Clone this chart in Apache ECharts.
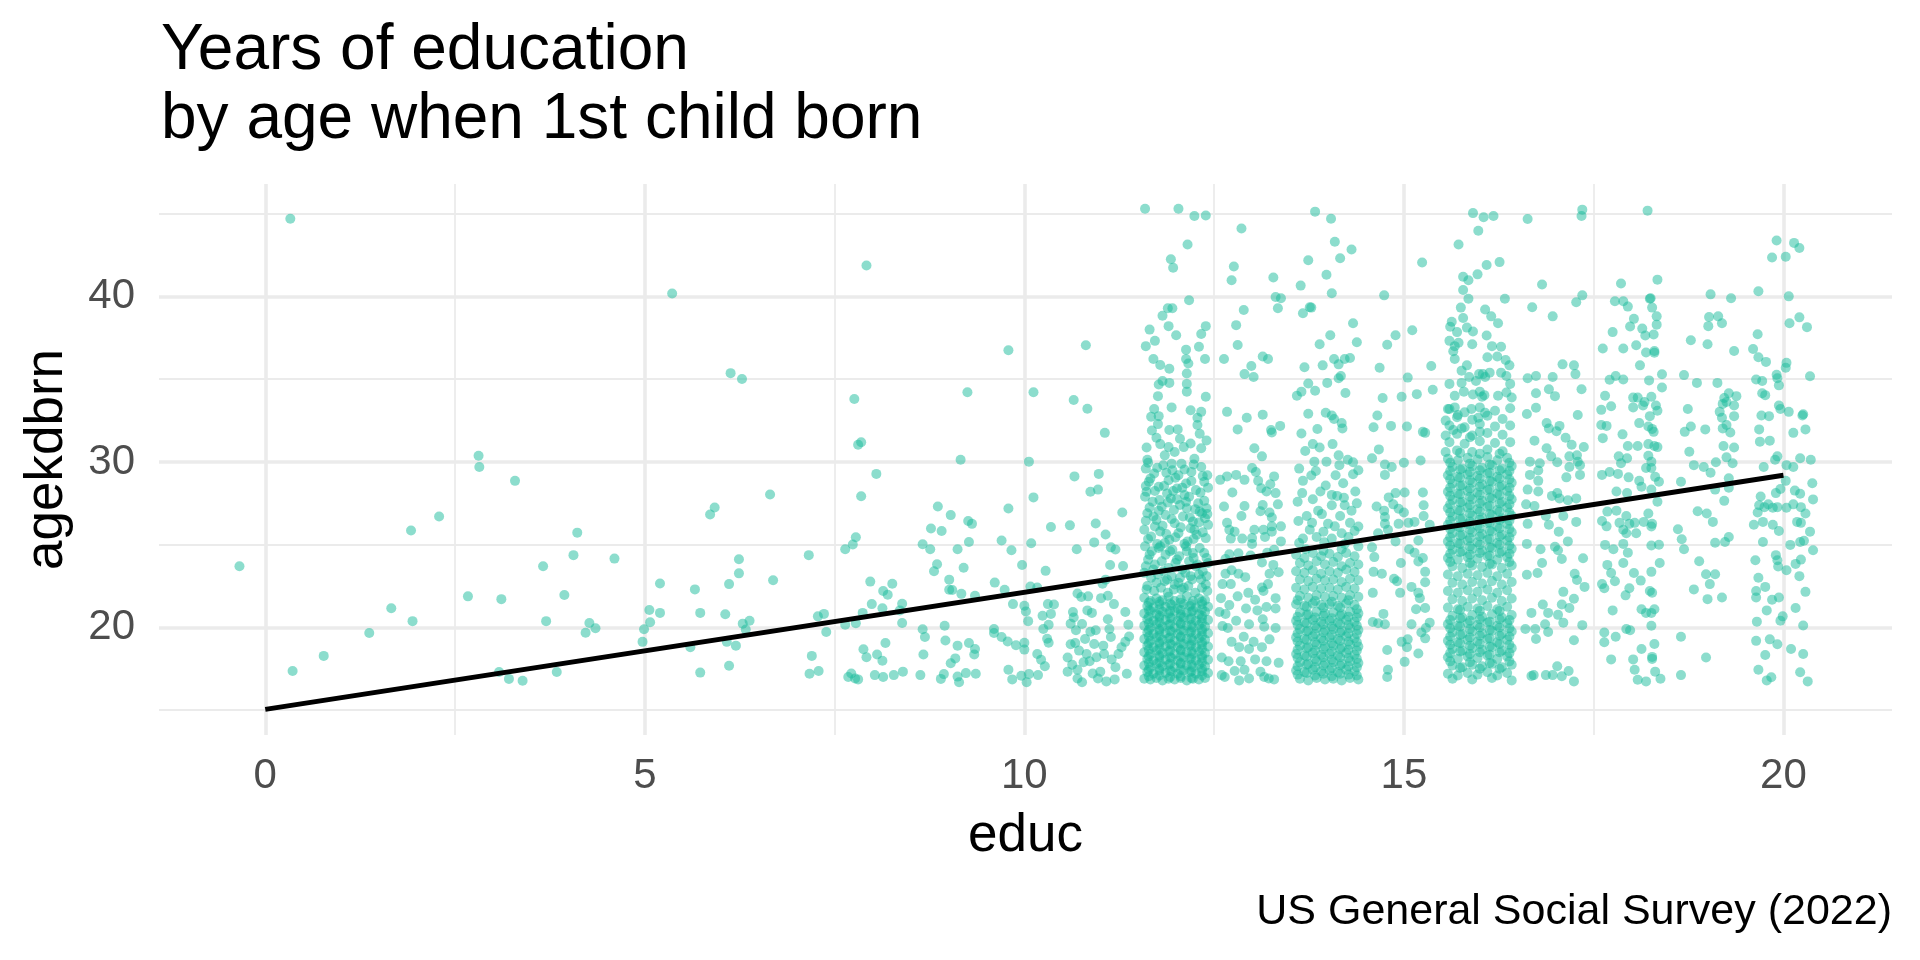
<!DOCTYPE html>
<html lang="en">
<head>
<meta charset="UTF-8">
<title>Years of education by age when 1st child born</title>
<script src="https://cdn.jsdelivr.net/npm/echarts@6/dist/echarts.min.js"></script>
<style>
  html, body { margin: 0; padding: 0; background: #fff; }
  #chart { width: 1920px; height: 960px; }
</style>
</head>
<body>
<div id="chart"></div>
<script>
// axis ticks
var xMajorTicks = [0, 5, 10, 15, 20];
var xMinorTicks = [2.5, 7.5, 12.5, 17.5];
var yMajorTicks = [20, 30, 40];
var yMinorTicks = [15, 25, 35, 45];

// fitted lm line (educ -> agekdbrn)
var fitLine = [[0, 15.05], [20, 29.2]];

// jittered points [educ, agekdbrn]
var lowEduc = [[0.33,44.7],[5.36,40.18],[6.13,35.37],[6.28,35.01],[2.81,30.38],[2.82,29.7],[3.29,28.86],[6.65,28.03],[5.92,27.25],[5.86,26.83],[2.29,26.7],[1.92,25.86],[4.11,25.73],[-0.34,23.7],[4.06,24.37],[4.6,24.16],[3.66,23.7],[7.16,24.37],[6.24,24.12],[6.24,23.27],[6.69,22.85],[5.2,22.66],[6.11,22.62],[5.66,22.3],[2.67,21.88],[3.11,21.71],[3.94,21.96],[1.66,21.16],[1.94,20.38],[3.7,20.38],[5.06,21.05],[5.2,20.88],[5.73,20.88],[6.06,20.8],[5.07,20.31],[4.27,20.27],[4.35,19.95],[4.22,19.68],[4.99,19.89],[6.29,20.23],[6.33,19.87],[6.38,20.4],[1.37,19.66],[4.97,19.13],[5.6,18.81],[6.08,19.13],[6.2,18.9],[7.28,20.67],[0.77,18.28],[7.2,18.28],[0.36,17.37],[3.08,17.31],[3.21,16.89],[3.39,16.78],[3.84,17.31],[5.73,17.27],[6.11,17.69],[7.17,17.2],[7.29,17.37],[7.36,20.82],[7.39,19.72]];

var educ8to11 = [[7.92,41.87],[9.79,36.75],[10.81,37.05],[9.25,34.21],[10.12,34.21],[7.76,33.81],[10.65,33.75],[10.83,33.22],[11.06,31.76],[7.85,31.19],[7.81,31.04],[9.16,30.13],[10.06,30.02],[8.05,29.28],[10.66,29.13],[10.98,29.28],[10.87,28.2],[10.97,28.33],[7.85,27.93],[10.12,27.86],[8.86,27.31],[9.79,27.19],[11.29,26.95],[9.03,26.79],[9.26,26.43],[9.31,26.26],[8.77,25.98],[8.91,25.83],[10.6,26.17],[10.35,26.07],[10.94,26.28],[11.07,25.62],[7.78,25.45],[7.74,25.01],[7.64,24.73],[9.27,25.16],[9.7,25.26],[10.09,25.09],[10.92,25.14],[8.66,25.03],[8.76,24.73],[9.12,24.73],[9.83,24.67],[10.69,24.73],[11.14,24.84],[11.2,24.71],[8.85,23.82],[8.81,23.4],[9.2,23.61],[9.97,23.77],[11.13,23.77],[11.3,23.71],[10.28,23.42],[9.01,22.89],[7.97,22.77],[8.26,22.64],[9.61,22.71],[9.74,22.28],[10.08,22.47],[10.17,22.41],[11.07,22.89],[11.03,22.64],[8.14,22.2],[8.2,21.98],[9.01,22.28],[9.05,22.26],[9.17,22.03],[9.35,21.92],[10.7,22.05],[10.75,21.84],[10.84,21.88],[11.01,21.77],[11.1,21.92],[7.99,21.41],[8.39,21.43],[7.87,20.88],[8.13,21.16],[8.36,21.03],[9.85,21.41],[10.0,21.31],[10.02,20.97],[10.05,20.38],[10.31,21.41],[10.39,21.39],[10.24,20.71],[10.35,20.82],[10.64,20.93],[10.83,21.03],[10.89,20.88],[11.18,21.41],[11.33,20.93],[7.64,20.16],[7.78,20.25],[8.39,20.27],[8.95,20.1],[11.37,20.16],[10.32,20.16],[10.61,20.23],[10.76,20.21],[10.68,19.83],[10.87,19.74],[10.94,19.83],[11.12,19.91],[8.66,19.89],[8.69,19.42],[9.6,19.91],[9.6,19.66],[9.7,19.42],[9.78,19.15],[10.25,19.91],[10.3,19.32],[10.32,19.08],[11.14,19.42],[11.38,19.45],[11.33,19.13],[8.96,19.21],[9.27,19.06],[9.12,18.9],[9.89,18.92],[10.0,19.08],[10.0,18.66],[8.17,19.06],[7.88,18.68],[9.35,18.7],[11.04,18.9],[10.61,18.98],[10.67,19.06],[7.92,18.2],[8.06,18.37],[8.13,17.99],[8.67,18.37],[9.34,18.37],[9.09,18.13],[9.03,17.84],[10.17,18.39],[10.22,18.05],[10.27,17.65],[10.57,18.18],[10.63,17.75],[10.82,18.39],[10.86,17.96],[11.05,18.39],[11.15,18.07],[11.24,18.39],[7.72,17.22],[7.77,16.91],[7.68,17.01],[7.81,16.86],[8.03,17.12],[8.14,17.01],[8.28,17.12],[8.4,17.33],[8.63,17.12],[8.9,16.89],[8.94,17.18],[9.12,17.03],[9.14,16.69],[9.23,17.24],[9.36,17.2],[9.79,17.44],[9.84,16.86],[9.96,17.08],[10.03,16.69],[10.06,17.18],[10.18,17.12],[10.57,17.33],[10.7,16.91],[10.76,16.69],[10.9,17.22],[10.97,16.91],[11.08,16.74],[11.19,16.86],[10.7,17.44],[11.0,17.33],[10.72,18.6],[10.95,18.2],[11.2,17.6],[10.8,19.3],[11.28,18.8],[10.65,20.6],[11.1,20.5],[10.78,17.9],[11.35,17.2],[10.92,19.0]];

var educ12 = [[11.59,45.3],[12.03,45.3],[12.24,44.87],[12.39,44.9],[12.15,43.14],[11.93,42.25],[11.96,41.74],[12.17,39.77],[11.89,39.29],[11.95,39.29],[11.82,38.84],[11.65,38.0],[11.9,38.21],[12.39,38.21],[12.0,37.66],[12.33,37.74],[11.72,37.32],[11.6,37.0],[12.3,36.96],[12.13,36.79],[11.7,36.22],[12.13,36.22],[12.38,36.22],[11.79,35.86],[12.16,35.95],[11.91,35.63],[12.14,35.35],[11.82,34.89],[11.91,34.78],[11.77,34.68],[12.14,34.72],[12.14,34.25],[11.76,33.98],[12.39,33.94],[11.94,33.3],[11.71,33.2],[12.19,33.13],[12.33,33.03],[11.67,32.73],[11.77,32.77],[12.28,32.67],[11.76,32.29],[12.28,32.24],[11.91,31.93],[12.02,31.97],[12.31,31.71],[11.74,31.46],[11.79,31.08],[12.19,31.12],[12.33,30.83],[11.61,30.87],[11.62,30.13],[11.98,30.6],[12.1,30.9],[11.85,30.4],[12.24,30.2],[12.05,31.4],[11.68,31.9],[12.4,31.3],[11.9,30.9],
  [11.6,29.6],[11.71,29.3],[11.83,29.8],[11.95,29.5],[12.07,29.9],[12.2,29.4],[12.33,29.7],[12.41,29.2],[11.64,28.8],[11.77,28.5],[11.9,28.9],[12.01,28.4],[12.13,28.7],[12.26,28.3],[12.37,28.8],[11.59,27.9],[11.69,27.6],[11.81,27.3],[11.93,27.8],[12.05,27.4],[12.17,27.9],[12.29,27.5],[12.4,27.2],[11.62,26.9],[11.74,26.5],[11.86,26.8],[11.98,26.3],[12.09,26.7],[12.22,26.4],[12.34,26.9],[12.42,26.2],[11.58,25.9],[11.67,25.5],[11.79,25.8],[11.91,25.3],[12.03,25.7],[12.15,25.2],[12.27,25.6],[12.39,25.4],[11.66,29.0],[11.88,28.1],[12.11,28.0],[12.31,27.0],[11.72,26.1],[11.97,27.1],[12.24,25.9],[11.85,25.1],[12.19,26.0],[11.61,28.2],[12.03,29.2],[12.38,26.6],[11.78,27.7],[12.14,27.2],[11.94,29.9],
  [11.63,29.95],[11.75,29.65],[11.87,29.35],[11.99,29.05],[12.11,29.55],[12.23,29.85],[12.35,29.15],[11.6,28.55],[11.72,28.25],[11.84,28.55],[11.96,28.25],[12.08,28.45],[12.2,28.85],[12.32,28.15],[12.42,28.45],[11.65,27.25],[11.77,27.05],[11.89,27.55],[12.01,27.75],[12.13,27.6],[12.25,27.15],[12.37,27.65],[11.6,26.45],[11.7,26.7],[11.82,26.15],[11.94,26.55],[12.06,26.05],[12.18,26.65],[12.3,26.35],[12.41,26.85],[11.63,25.35],[11.75,25.05],[11.87,25.65],[11.99,25.45],[12.11,25.05],[12.23,25.35],[12.35,25.75],
  [11.59,24.9],[11.68,24.6],[11.77,24.8],[11.86,24.4],[11.95,24.7],[12.04,24.3],[12.13,24.9],[12.22,24.5],[12.31,24.8],[12.4,24.2],[11.63,24.1],[11.72,23.8],[11.81,24.0],[11.9,23.6],[11.99,23.9],[12.08,23.5],[12.17,24.0],[12.26,23.7],[12.35,23.4],[12.42,23.9],[11.58,23.3],[11.67,23.0],[11.76,23.2],[11.85,22.8],[11.94,23.1],[12.03,22.7],[12.12,23.3],[12.21,22.9],[12.3,23.2],[12.39,22.6],[11.62,22.5],[11.71,22.2],[11.8,22.4],[11.89,22.1],[11.98,22.6],[12.07,22.3],[12.16,22.5],[12.25,22.1],[12.34,22.4],[12.41,22.2],[11.65,24.4],[11.83,23.4],[12.01,24.1],[12.19,23.1],[12.37,24.5],[11.74,22.7],[11.92,24.6],[12.1,22.4],[12.28,23.8],[11.6,23.7],[12.05,23.0],[12.23,24.2],[11.79,24.9],[11.97,22.3],[12.33,22.9],[11.7,23.5],[12.14,24.6],[11.88,22.9],[12.4,23.1],[11.61,22.3],
  [11.58,21.8],[11.66,21.6],[11.74,21.75],[11.82,21.65],[11.9,21.85],[11.98,21.6],[12.06,21.7],[12.14,21.9],[12.22,21.6],[12.3,21.75],[12.38,21.65],
  [11.62,21.3],[11.7,21.2],[11.78,21.4],[11.86,21.25],[11.94,21.35],[12.02,21.15],[12.1,21.4],[12.18,21.3],[12.26,21.2],[12.34,21.4],[12.42,21.25],
  [11.58,20.85],[11.66,21.0],[11.74,20.8],[11.82,20.95],[11.9,20.85],[11.98,21.0],[12.06,20.8],[12.14,20.9],[12.22,21.0],[12.3,20.8],[12.38,20.95],
  [11.62,20.5],[11.7,20.4],[11.78,20.6],[11.86,20.45],[11.94,20.55],[12.02,20.4],[12.1,20.6],[12.18,20.5],[12.26,20.4],[12.34,20.55],[12.42,20.45],
  [11.58,20.1],[11.66,20.0],[11.74,20.2],[11.82,20.05],[11.9,20.15],[11.98,20.0],[12.06,20.2],[12.14,20.1],[12.22,20.0],[12.3,20.15],[12.38,20.05],
  [11.62,19.7],[11.7,19.6],[11.78,19.8],[11.86,19.65],[11.94,19.75],[12.02,19.6],[12.1,19.8],[12.18,19.7],[12.26,19.6],[12.34,19.75],[12.42,19.65],
  [11.58,19.3],[11.66,19.2],[11.74,19.4],[11.82,19.25],[11.9,19.35],[11.98,19.2],[12.06,19.4],[12.14,19.3],[12.22,19.2],[12.3,19.35],[12.38,19.25],
  [11.62,18.9],[11.7,18.8],[11.78,19.0],[11.86,18.85],[11.94,18.95],[12.02,18.8],[12.1,19.0],[12.18,18.9],[12.26,18.8],[12.34,18.95],[12.42,18.85],
  [11.58,18.5],[11.66,18.4],[11.74,18.6],[11.82,18.45],[11.9,18.55],[11.98,18.4],[12.06,18.6],[12.14,18.5],[12.22,18.4],[12.3,18.55],[12.38,18.45],
  [11.62,18.1],[11.7,18.0],[11.78,18.2],[11.86,18.05],[11.94,18.15],[12.02,18.0],[12.1,18.2],[12.18,18.1],[12.26,18.0],[12.34,18.15],[12.42,18.05],
  [11.58,17.7],[11.66,17.6],[11.74,17.8],[11.82,17.65],[11.9,17.75],[11.98,17.6],[12.06,17.8],[12.14,17.7],[12.22,17.6],[12.3,17.75],[12.38,17.65],
  [11.62,17.3],[11.7,17.2],[11.78,17.4],[11.86,17.25],[11.94,17.35],[12.02,17.2],[12.1,17.4],[12.18,17.3],[12.26,17.2],[12.34,17.35],[12.42,17.25],
  [11.58,16.9],[11.66,16.85],[11.74,16.95],[11.82,16.8],[11.9,16.9],[11.98,16.85],[12.06,16.95],[12.14,16.8],[12.22,16.9],[12.3,16.85],[12.38,16.95],
  [11.64,21.5],[11.78,21.55],[11.92,21.45],[12.06,21.5],[12.2,21.4],[12.34,21.55],
  [11.64,21.05],[11.78,21.1],[11.92,21.0],[12.06,21.05],[12.2,20.95],[12.34,21.1],
  [11.64,20.65],[11.78,20.7],[11.92,20.6],[12.06,20.65],[12.2,20.55],[12.34,20.7],
  [11.64,20.25],[11.78,20.3],[11.92,20.2],[12.06,20.25],[12.2,20.15],[12.34,20.3],
  [11.64,19.85],[11.78,19.9],[11.92,19.8],[12.06,19.85],[12.2,19.75],[12.34,19.9],
  [11.64,19.45],[11.78,19.5],[11.92,19.4],[12.06,19.45],[12.2,19.35],[12.34,19.5],
  [11.64,19.05],[11.78,19.1],[11.92,19.0],[12.06,19.05],[12.2,18.95],[12.34,19.1],
  [11.64,18.65],[11.78,18.7],[11.92,18.6],[12.06,18.65],[12.2,18.55],[12.34,18.7],
  [11.64,18.25],[11.78,18.3],[11.92,18.2],[12.06,18.25],[12.2,18.15],[12.34,18.3],
  [11.64,17.85],[11.78,17.9],[11.92,17.8],[12.06,17.85],[12.2,17.75],[12.34,17.9],
  [11.64,17.45],[11.78,17.5],[11.92,17.4],[12.06,17.45],[12.2,17.35],[12.34,17.5],
  [11.64,17.05],[11.78,17.1],[11.92,17.0],[12.06,17.05],[12.2,16.95],[12.34,17.1]];

var educ13 = [[12.86,44.11],[12.76,41.81],[12.73,40.98],[13.28,41.15],[13.31,39.97],[13.38,39.9],[13.34,39.29],[12.89,39.18],[12.79,38.27],[12.81,37.07],[12.63,36.22],[13.14,36.37],[13.21,36.22],[12.99,35.8],[12.9,35.31],[13.02,35.14],[12.67,33.03],[13.14,32.86],[12.93,32.67],[13.37,32.18],[12.81,31.97],[13.25,31.93],[13.26,31.78],[13.03,30.83],[13.13,30.34],[13.0,29.64],[13.05,29.39],[12.58,28.92],[12.67,29.13],[12.79,29.22],[12.9,28.92],[13.29,29.13],[13.08,28.86],[13.24,28.65],[12.74,28.16],[13.19,28.22],[13.31,28.12],[13.12,28.41],[12.63,27.31],[12.9,27.34],[13.14,27.4],[13.34,27.44],[12.86,26.74],[13.11,27.02],[13.23,26.95],[13.26,26.64],[12.67,26.32],[12.7,25.9],[12.77,25.79],[13.03,25.9],[13.15,25.9],[13.38,26.11],[13.26,26.11],[13.26,25.79],[12.72,25.37],[12.87,25.37],[13.0,25.41],[13.17,25.47],[13.0,25.05],[13.38,25.2],[13.29,24.69],[12.7,24.42],[12.82,24.48],[12.98,24.35],[13.2,24.52],[12.65,24.14],[13.13,23.93],[13.28,23.78],[13.35,23.34],[12.73,23.46],[12.65,23.25],[12.82,23.25],[12.91,23.04],[13.23,23.25],[12.61,22.62],[12.72,22.62],[13.13,22.41],[13.21,22.62],[12.95,22.09],[13.15,22.2],[12.59,21.77],[12.81,21.88],[13.04,21.67],[13.31,21.77],[12.7,21.35],[12.92,21.14],[13.19,21.24],[12.57,20.93],[12.65,20.82],[13.07,21.03],[13.31,21.14],[12.79,20.4],[13.14,20.5],[12.61,20.08],[12.68,19.97],[12.96,20.19],[13.16,20.04],[13.31,19.97],[12.89,19.44],[12.73,19.13],[13.02,19.13],[13.23,19.28],[12.83,18.81],[12.96,18.7],[13.13,18.81],[12.6,18.18],[12.69,17.96],[12.85,17.96],[13.04,18.07],[13.19,17.96],[13.35,17.86],[12.77,17.37],[12.9,17.44],[13.11,17.33],[12.64,17.01],[12.6,17.12],[12.83,16.8],[12.96,16.91],[13.16,17.01],[13.22,16.91],[13.29,16.86]];

var educ14 = [[13.83,45.13],[14.04,44.7],[14.09,43.31],[14.31,42.84],[14.16,42.31],[13.74,42.19],[13.98,41.32],[13.64,40.66],[14.05,40.2],[13.76,39.35],[13.67,38.99],[13.78,39.33],[14.33,38.38],[14.03,37.66],[14.38,37.24],[13.89,37.11],[14.08,36.22],[14.14,35.9],[14.22,36.22],[14.29,36.28],[13.93,35.84],[13.69,35.73],[14.17,35.2],[14.14,35.06],[13.74,34.74],[13.99,34.78],[13.83,34.3],[13.65,34.25],[14.23,34.17],[13.59,34.0],[13.74,32.92],[13.97,32.98],[14.05,32.81],[14.18,32.35],[14.19,32.03],[14.08,32.6],[13.86,31.99],[13.65,31.72],[13.8,31.08],[14.06,31.08],[13.7,30.66],[13.89,30.87],[13.82,30.02],[13.98,30.02],[14.14,30.4],[14.26,30.13],[14.33,29.98],[14.33,29.26],[14.15,29.81],[13.78,29.18],[13.67,28.86],[14.2,28.71],[13.97,28.58],[13.9,28.22],[14.05,28.01],[14.36,28.22],[14.21,27.84],[13.66,28.12],[13.87,27.06],[14.05,27.38],[14.22,27.38],[14.31,27.06],[13.72,26.74],[13.92,26.85],[14.16,26.74],[13.79,26.32],[14.0,26.26],[14.09,26.11],[14.29,26.32],[13.61,26.43],[13.76,25.9],[13.94,25.79],[14.18,25.69],[14.35,25.83],[13.67,25.37],[13.85,25.47],[14.05,25.37],[14.27,25.47],[13.71,24.73],[13.94,24.63],[14.18,24.73],[14.4,24.9],
  [13.62,29.6],[13.84,29.45],[14.1,29.2],[14.4,29.5],[13.6,27.6],[13.8,27.75],[14.12,27.95],[14.38,27.5],[13.62,25.1],[13.95,25.15],[14.22,25.05],[14.4,26.1],
  [13.58,24.4],[13.69,24.2],[13.8,24.5],[13.91,24.3],[14.02,24.45],[14.13,24.25],[14.24,24.5],[14.35,24.3],
  [13.63,23.9],[13.74,23.75],[13.85,24.0],[13.96,23.8],[14.07,23.95],[14.18,23.7],[14.29,23.9],[14.4,23.8],
  [13.58,23.4],[13.69,23.3],[13.8,23.45],[13.91,23.25],[14.02,23.4],[14.13,23.3],[14.24,23.5],[14.35,23.35],
  [13.63,22.9],[13.74,22.8],[13.85,22.95],[13.96,22.85],[14.07,22.9],[14.18,22.75],[14.29,22.95],[14.4,22.85],
  [13.58,22.4],[13.69,22.3],[13.8,22.45],[13.91,22.35],[14.02,22.4],[14.13,22.3],[14.24,22.45],[14.35,22.35],
  [13.63,21.9],[13.74,21.8],[13.85,21.95],[13.96,21.85],[14.07,21.9],[14.18,21.8],[14.29,21.95],[14.4,21.85],
  [13.58,21.4],[13.69,21.3],[13.8,21.45],[13.91,21.35],[14.02,21.4],[14.13,21.3],[14.24,21.45],[14.35,21.35],
  [13.63,20.9],[13.74,20.8],[13.85,20.95],[13.96,20.85],[14.07,20.9],[14.18,20.8],[14.29,20.95],[14.4,20.85],
  [13.58,20.4],[13.69,20.3],[13.8,20.45],[13.91,20.35],[14.02,20.4],[14.13,20.3],[14.24,20.45],[14.35,20.35],
  [13.63,19.9],[13.74,19.8],[13.85,19.95],[13.96,19.85],[14.07,19.9],[14.18,19.8],[14.29,19.95],[14.4,19.85],
  [13.58,19.4],[13.69,19.3],[13.8,19.45],[13.91,19.35],[14.02,19.4],[14.13,19.3],[14.24,19.45],[14.35,19.35],
  [13.63,18.9],[13.74,18.8],[13.85,18.95],[13.96,18.85],[14.07,18.9],[14.18,18.8],[14.29,18.95],[14.4,18.85],
  [13.58,18.4],[13.69,18.3],[13.8,18.45],[13.91,18.35],[14.02,18.4],[14.13,18.3],[14.24,18.45],[14.35,18.35],
  [13.63,17.9],[13.74,17.8],[13.85,17.95],[13.96,17.85],[14.07,17.9],[14.18,17.8],[14.29,17.95],[14.4,17.85],
  [13.58,17.4],[13.69,17.3],[13.8,17.45],[13.91,17.35],[14.02,17.4],[14.13,17.3],[14.24,17.45],[14.35,17.35],
  [13.63,16.9],[13.74,16.8],[13.85,16.95],[13.96,16.85],[14.07,16.9],[14.18,16.8],[14.29,16.95],[14.4,16.85],
  [13.6,21.65],[13.83,21.6],[14.05,21.55],[14.27,21.65],
  [13.72,21.25],[13.94,21.2],[14.16,21.2],[14.38,21.1],
  [13.6,20.65],[13.72,20.75],[13.83,20.6],[13.94,20.7],[14.05,20.55],[14.16,20.7],[14.27,20.65],[14.38,20.6],
  [13.6,20.15],[13.72,20.25],[13.83,20.1],[13.94,20.2],[14.05,20.05],[14.16,20.2],[14.27,20.15],[14.38,20.1],
  [13.6,19.65],[13.72,19.75],[13.83,19.6],[13.94,19.7],[14.05,19.55],[14.16,19.7],[14.27,19.65],[14.38,19.6],
  [13.6,19.15],[13.72,19.25],[13.83,19.1],[13.94,19.2],[14.05,19.05],[14.16,19.2],[14.27,19.15],[14.38,19.1],
  [13.6,18.65],[13.72,18.75],[13.83,18.6],[13.94,18.7],[14.05,18.55],[14.16,18.7],[14.27,18.65],[14.38,18.6],
  [13.6,18.15],[13.72,18.25],[13.83,18.1],[13.94,18.2],[14.05,18.05],[14.16,18.2],[14.27,18.15],[14.38,18.1],
  [13.6,17.65],[13.72,17.75],[13.83,17.6],[13.94,17.7],[14.05,17.55],[14.16,17.7],[14.27,17.65],[14.38,17.6],
  [13.6,17.15],[13.72,17.25],[13.83,17.1],[13.94,17.2],[14.05,17.05],[14.16,17.2],[14.27,17.15],[14.38,17.1]];

var educ15 = [[14.74,40.07],[14.78,37.09],[14.89,37.66],[15.11,37.96],[14.68,35.69],[15.36,35.8],[15.05,35.1],[14.72,33.87],[14.97,33.94],[15.17,34.1],[15.38,34.36],[14.65,32.81],[14.6,32.1],[14.83,32.18],[15.04,32.14],[15.25,31.82],[15.28,31.76],[14.67,30.76],[14.58,30.23],[14.75,29.85],[14.84,29.7],[15.0,29.96],[15.22,30.09],[14.75,29.22],[14.89,28.12],[15.01,28.16],[15.25,28.16],[14.8,27.86],[15.26,27.38],[14.64,27.31],[14.86,27.44],[14.93,27.17],[15.0,26.95],[14.74,27.06],[15.26,26.74],[14.75,26.68],[14.75,26.26],[14.93,26.26],[15.06,26.32],[15.14,26.38],[15.34,26.21],[14.79,25.9],[14.66,25.69],[14.89,25.2],[15.19,25.26],[14.58,24.84],[15.07,24.73],[14.61,24.25],[15.14,24.52],[14.96,23.89],[15.25,24.2],[15.19,23.99],[14.6,23.36],[14.71,23.25],[14.87,22.94],[14.91,22.79],[15.1,22.45],[15.28,23.36],[15.28,22.73],[14.59,22.09],[14.95,22.09],[15.19,22.09],[15.21,21.77],[15.16,21.1],[15.28,21.18],[14.73,20.82],[14.59,20.33],[14.75,20.19],[14.66,20.25],[15.1,20.19],[15.34,20.29],[15.29,19.97],[15.23,19.7],[15.28,19.34],[14.97,19.13],[15.05,19.28],[15.04,18.81],[14.78,18.64],[15.19,18.43],[15.01,17.92],[14.79,17.44],[14.78,17.01],[15.24,42.06]];

var educ16 = [[15.91,45.04],[16.05,44.79],[15.98,43.98],[15.72,43.14],[16.09,41.91],[15.78,41.19],[15.85,40.98],[15.97,41.34],[15.78,40.39],[15.85,39.86],[15.75,39.33],[16.07,39.22],[15.78,38.7],[15.61,38.17],[15.63,38.48],[15.7,37.85],[15.83,38.12],[15.91,37.89],[16.09,37.64],[15.6,37.32],[15.67,37.0],[15.72,37.21],[15.9,37.11],[15.65,36.69],[15.67,36.22],[15.83,35.84],[15.76,35.52],[15.99,35.31],[15.86,35.14],[16.07,35.14],[15.6,34.72],[15.76,34.78],[15.67,34.0],[15.79,34.25],[15.91,34.08],[16.0,34.25],[16.03,33.94],[15.58,33.2],[15.67,33.3],[15.71,32.84],[15.89,33.2],[15.98,32.67],[16.07,32.98],[15.65,31.93],[15.76,32.03],[15.87,31.5],[16.0,31.82],
  [16.18,44.87],[16.26,42.08],[16.33,39.86],[16.15,38.8],[16.24,38.38],[16.28,36.96],[16.16,37.0],[16.1,36.33],[16.23,36.37],[16.34,36.16],[16.39,35.84],[16.04,35.31],[16.13,35.4],[16.28,35.4],[16.35,35.2],[16.4,34.72],[15.95,34.89],[16.06,34.04],[16.24,34.0],[16.35,34.2],[16.42,33.9],
  [15.6,33.2],[15.8,33.0],[16.0,33.3],[16.2,33.1],[16.4,33.25],
  [15.7,32.7],[15.9,32.55],[16.1,32.8],[16.3,32.6],[15.55,32.5],
  [15.6,32.2],[15.8,32.1],[16.0,32.3],[16.2,32.15],[16.4,32.2],
  [15.7,31.7],[15.9,31.6],[16.1,31.75],[16.3,31.65],[15.55,31.6],
  [15.6,31.2],[15.8,31.1],[16.0,31.25],[16.2,31.15],[16.4,31.2],
  [15.7,30.7],[15.9,30.6],[16.1,30.75],[16.3,30.65],[15.55,30.6],
  [15.58,30.2],[15.71,30.1],[15.84,30.25],[15.97,30.15],[16.1,30.3],[16.23,30.1],[16.36,30.25],
  [15.64,29.7],[15.77,29.6],[15.9,29.75],[16.03,29.65],[16.16,29.8],[16.29,29.6],[16.42,29.75],
  [15.58,29.2],[15.71,29.1],[15.84,29.25],[15.97,29.15],[16.1,29.3],[16.23,29.1],[16.36,29.25],
  [15.64,28.7],[15.77,28.6],[15.9,28.75],[16.03,28.65],[16.16,28.8],[16.29,28.6],[16.42,28.75],
  [15.58,28.2],[15.71,28.1],[15.84,28.25],[15.97,28.15],[16.1,28.3],[16.23,28.1],[16.36,28.25],
  [15.64,27.7],[15.77,27.6],[15.9,27.75],[16.03,27.65],[16.16,27.8],[16.29,27.6],[16.42,27.75],
  [15.58,27.2],[15.71,27.1],[15.84,27.25],[15.97,27.15],[16.1,27.3],[16.23,27.1],[16.36,27.25],
  [15.64,26.7],[15.77,26.6],[15.9,26.75],[16.03,26.65],[16.16,26.8],[16.29,26.6],[16.42,26.75],
  [15.58,26.2],[15.71,26.1],[15.84,26.25],[15.97,26.15],[16.1,26.3],[16.23,26.1],[16.36,26.25],
  [15.64,25.7],[15.77,25.6],[15.9,25.75],[16.03,25.65],[16.16,25.8],[16.29,25.6],[16.42,25.75],
  [15.58,25.2],[15.71,25.1],[15.84,25.25],[15.97,25.15],[16.1,25.3],[16.23,25.1],[16.36,25.25],
  [15.64,24.7],[15.77,24.6],[15.9,24.75],[16.03,24.65],[16.16,24.8],[16.29,24.6],[16.42,24.75],
  [15.58,24.2],[15.71,24.1],[15.84,24.25],[15.97,24.15],[16.1,24.3],[16.23,24.1],[16.36,24.25],
  [15.64,23.7],[15.77,23.6],[15.9,23.75],[16.03,23.65],[16.16,23.8],[16.29,23.6],[16.42,23.75],
  [15.58,23.2],[15.71,23.1],[15.84,23.25],[15.97,23.15],[16.1,23.3],[16.23,23.1],[16.36,23.25],
  [15.64,22.7],[15.77,22.6],[15.9,22.75],[16.03,22.65],[16.16,22.8],[16.29,22.6],[16.42,22.75],
  [15.58,22.2],[15.71,22.1],[15.84,22.25],[15.97,22.15],[16.1,22.3],[16.23,22.1],[16.36,22.25],
  [15.64,21.7],[15.77,21.6],[15.9,21.75],[16.03,21.65],[16.16,21.8],[16.29,21.6],[16.42,21.75],
  [15.58,21.2],[15.71,21.1],[15.84,21.25],[15.97,21.15],[16.1,21.3],[16.23,21.1],[16.36,21.25],
  [15.64,20.7],[15.77,20.6],[15.9,20.75],[16.03,20.65],[16.16,20.8],[16.29,20.6],[16.42,20.75],
  [15.58,20.2],[15.71,20.1],[15.84,20.25],[15.97,20.15],[16.1,20.3],[16.23,20.1],[16.36,20.25],
  [15.64,19.7],[15.77,19.6],[15.9,19.75],[16.03,19.65],[16.16,19.8],[16.29,19.6],[16.42,19.75],
  [15.58,19.2],[15.71,19.1],[15.84,19.25],[15.97,19.15],[16.1,19.3],[16.23,19.1],[16.36,19.25],
  [15.64,18.7],[15.77,18.6],[15.9,18.75],[16.03,18.65],[16.16,18.8],[16.29,18.6],[16.42,18.75],
  [15.58,18.2],[15.71,18.1],[15.84,18.25],[15.97,18.15],[16.1,18.3],[16.23,18.1],[16.36,18.25],
  [15.64,17.7],[15.77,17.6],[15.9,17.75],[16.03,17.65],[16.16,17.8],[16.29,17.6],[16.42,17.75],
  [15.58,17.2],[15.71,17.1],[15.84,17.25],[15.97,17.15],[16.1,17.3],[16.23,17.1],[16.36,17.25],
  [15.64,16.9],[15.9,16.85],[16.16,16.95],[16.42,16.8],
  [15.74,30.55],[16.0,30.5],[16.26,30.5],
  [15.61,29.95],[15.87,29.9],[16.13,29.85],[16.39,29.95],
  [15.61,29.45],[15.74,29.55],[15.87,29.4],[16.0,29.5],[16.13,29.35],[16.26,29.5],[16.39,29.45],
  [15.61,28.95],[15.74,29.05],[15.87,28.9],[16.0,29.0],[16.13,28.85],[16.26,29.0],[16.39,28.95],
  [15.61,28.45],[15.74,28.55],[15.87,28.4],[16.0,28.5],[16.13,28.35],[16.26,28.5],[16.39,28.45],
  [15.61,27.95],[15.74,28.05],[15.87,27.9],[16.0,28.0],[16.13,27.85],[16.26,28.0],[16.39,27.95],
  [15.61,27.45],[15.74,27.55],[15.87,27.4],[16.0,27.5],[16.13,27.35],[16.26,27.5],[16.39,27.45],
  [15.61,26.95],[15.74,27.05],[15.87,26.9],[16.0,27.0],[16.13,26.85],[16.26,27.0],[16.39,26.95],
  [15.61,26.45],[15.74,26.55],[15.87,26.4],[16.0,26.5],[16.13,26.35],[16.26,26.5],[16.39,26.45],
  [15.61,25.95],[15.74,26.05],[15.87,25.9],[16.0,26.0],[16.13,25.85],[16.26,26.0],[16.39,25.95],
  [15.61,25.45],[15.74,25.55],[15.87,25.4],[16.0,25.5],[16.13,25.35],[16.26,25.5],[16.39,25.45],
  [15.61,24.95],[15.74,25.05],[15.87,24.9],[16.0,25.0],[16.13,24.85],[16.26,25.0],[16.39,24.95],
  [15.61,24.45],[15.74,24.55],[15.87,24.4],[16.0,24.5],[16.13,24.35],[16.26,24.5],[16.39,24.45],
  [15.61,23.95],[15.87,23.9],[16.13,23.85],[16.39,23.95],
  [15.74,21.05],[16.0,21.0],[16.26,21.0],
  [15.61,20.45],[15.74,20.55],[15.87,20.4],[16.0,20.5],[16.13,20.35],[16.26,20.5],[16.39,20.45],
  [15.61,19.95],[15.74,20.05],[15.87,19.9],[16.0,20.0],[16.13,19.85],[16.26,20.0],[16.39,19.95],
  [15.61,19.45],[15.74,19.55],[15.87,19.4],[16.0,19.5],[16.13,19.35],[16.26,19.5],[16.39,19.45],
  [15.61,18.95],[15.74,19.05],[15.87,18.9],[16.0,19.0],[16.13,18.85],[16.26,19.0],[16.39,18.95],
  [15.61,18.45],[15.74,18.55],[15.87,18.4],[16.0,18.5],[16.13,18.35],[16.26,18.5],[16.39,18.45],
  [15.61,17.95],[15.87,17.9],[16.13,17.85],[16.39,17.95],
  [15.74,17.55],[16.0,17.5],[16.26,17.5]];

var educ17 = [[16.63,44.68],[17.35,45.25],[17.34,44.87],[16.82,40.73],[16.69,39.35],[16.96,38.8],[17.27,39.65],[17.35,40.07],[17.09,35.9],[17.24,35.84],[17.26,35.31],[16.63,35.06],[16.74,35.2],[16.96,35.14],[16.74,34.15],[16.91,34.4],[16.99,33.98],[17.34,34.4],[16.62,32.9],[16.74,33.28],[17.29,32.84],[16.88,32.35],[16.91,32.03],[17.05,32.18],[17.01,31.86],[16.72,31.29],[17.13,31.46],[17.21,31.04],[17.37,30.91],[16.88,30.83],[16.94,30.34],[17.02,29.98],[17.18,30.34],[17.28,30.4],[17.29,30.02],[16.66,30.02],[16.79,29.92],[16.77,29.49],[16.66,29.22],[16.77,28.86],[17.18,29.7],[17.32,29.81],[17.32,29.22],[17.14,29.07],[16.63,28.33],[16.77,28.22],[16.95,27.95],[17.02,28.12],[17.05,27.8],[17.16,27.69],[17.27,27.8],[16.61,27.44],[16.72,27.34],[16.87,26.74],[16.91,26.21],[17.1,26.74],[17.27,26.38],[16.63,26.26],[17.04,25.79],[16.62,25.05],[16.8,24.73],[16.99,24.88],[17.03,24.67],[17.08,24.14],[17.16,25.2],[17.36,24.18],[16.82,23.89],[16.76,23.29],[16.62,23.19],[17.25,23.25],[17.28,22.87],[17.38,22.45],[17.1,22.15],[17.24,21.73],[17.08,21.39],[16.83,21.39],[16.68,20.88],[16.9,20.88],[17.03,20.76],[17.18,21.18],[17.1,20.29],[16.86,20.19],[16.6,19.91],[16.73,19.91],[16.9,19.72],[16.74,19.3],[17.35,20.14],[17.24,19.23],[17.02,17.65],[16.68,17.07],[16.71,17.12],[16.87,17.12],[16.96,17.12],[17.08,17.05],[17.17,17.37],[17.24,16.74]];

var educ18 = [[18.21,45.19],[17.86,40.79],[18.34,41.02],[17.78,39.71],[17.89,39.71],[17.95,39.39],[18.24,39.86],[18.27,39.33],[18.33,38.8],[18.03,38.65],[17.98,38.19],[18.14,38.06],[18.18,37.64],[18.29,37.7],[17.75,37.85],[17.62,36.86],[17.89,36.86],[18.06,37.05],[18.19,36.62],[18.3,36.71],[18.11,35.84],[17.71,34.97],[17.79,35.2],[17.89,34.99],[18.23,34.93],[17.65,34.0],[18.02,33.89],[18.08,33.89],[18.17,33.62],[18.26,33.94],[18.32,33.41],[17.6,33.15],[17.73,33.37],[18.02,33.3],[18.15,33.41],[18.24,32.77],[17.6,32.24],[17.67,32.18],[17.62,31.44],[17.88,31.67],[18.1,32.35],[18.22,32.14],[18.29,31.82],[17.95,30.97],[18.08,30.97],[18.22,31.08],[18.3,30.97],[17.83,30.34],[17.94,30.23],[18.22,30.38],[18.26,30.02],[17.86,29.92],[18.19,29.64],[18.26,29.64],[17.61,29.22],[17.71,29.39],[17.82,29.28],[17.96,29.07],[18.13,28.5],[17.8,28.22],[17.94,28.12],[18.26,28.33],[18.1,28.86],[17.68,27.0],[17.8,27.06],[17.93,26.74],[18.22,26.89],[17.61,26.43],[17.67,26.11],[17.84,26.32],[17.89,25.9],[17.97,26.26],[18.04,26.32],[18.16,26.38],[18.27,26.26],[17.93,25.69],[18.06,25.69],[17.65,24.99],[17.76,24.73],[17.89,25.05],[17.95,24.52],[18.26,24.95],[17.68,23.78],[17.89,23.89],[18.03,23.29],[18.26,23.36],[17.61,22.62],[17.64,22.37],[17.78,22.79],[17.73,23.29],[17.97,22.37],[18.12,22.83],[18.24,22.2],[17.92,21.94],[17.75,21.03],[18.13,21.1],[18.19,20.88],[18.26,20.88],[18.3,21.1],[17.64,19.7],[17.64,19.11],[17.79,19.44],[17.93,19.91],[17.98,19.83],[18.13,18.7],[17.73,18.07],[18.02,18.07],[18.27,18.22],[18.04,17.44],[18.08,16.84],[18.19,16.74],[18.31,17.33],
  [18.25,39.9],[18.33,38.3],[18.3,36.6],[18.4,35.3],[18.4,34.5],[18.34,33.1],[18.27,32.0],[18.34,30.9],[18.31,29.1],[18.36,28.8],[18.34,27.6],[18.26,26.1],[18.36,25.0],[18.37,23.9],[18.27,22.1],[18.26,20.1],[18.3,19.0],[18.27,18.1],[18.38,16.9]];

var educ19 = [[19.04,40.13],[19.31,39.9],[19.02,38.76],[19.14,38.8],[19.01,38.21],[19.19,38.38],[18.78,37.36],[19.0,37.11],[19.35,36.71],[18.69,35.25],[18.86,34.78],[19.13,34.78],[19.28,34.15],[19.22,33.87],[19.38,33.98],[19.2,33.51],[19.25,33.62],[19.16,33.03],[19.35,33.41],[19.19,32.67],[19.35,32.77],[19.25,32.24],[19.2,32.03],[19.3,31.78],[19.21,30.97],[19.35,30.87],[19.25,30.28],[19.33,29.92],[19.28,29.01],[19.28,28.44],[19.22,27.65],[18.74,33.2],[18.78,32.14],[18.7,31.82],[18.97,31.97],[18.76,30.62],[18.82,29.81],[18.95,29.7],[19.04,29.35],[19.11,29.98],[18.65,28.8],[19.1,28.33],[18.87,27.02],[18.99,26.89],[19.07,26.38],[18.61,25.94],[18.66,25.33],[18.69,24.73],[19.1,25.12],[19.23,25.16],[19.28,25.47],[18.89,24.0],[18.98,23.21],[19.1,23.21],[19.03,22.62],[18.82,22.3],[19.0,21.71],[19.19,21.81],[18.65,19.44],[18.98,18.18],[18.65,17.12]];

var educ20 = [[19.91,43.39],[19.85,42.36],[20.03,42.4],[20.14,43.24],[20.21,42.93],[19.67,40.32],[20.07,40.01],[20.08,38.38],[20.21,38.74],[20.31,38.15],[19.66,37.72],[19.6,36.83],[19.67,36.33],[19.77,36.05],[20.04,35.99],[20.03,35.69],[19.91,35.27],[19.94,34.63],[19.92,35.06],[19.64,34.99],[19.72,34.89],[19.72,34.15],[19.76,34.04],[20.35,35.18],[19.94,33.41],[19.96,33.2],[20.07,33.03],[19.81,32.77],[19.71,32.81],[20.26,32.88],[20.25,32.81],[19.68,31.97],[19.82,31.29],[19.69,31.23],[20.13,31.76],[20.29,31.97],[19.89,30.13],[19.92,30.34],[19.74,29.7],[20.04,29.81],[20.13,29.7],[20.22,30.23],[20.36,30.13],[20.03,28.86],[19.96,28.37],[19.9,28.12],[19.7,27.91],[19.68,27.38],[19.75,27.27],[19.8,27.44],[19.86,27.23],[19.92,27.27],[20.04,27.23],[20.13,27.44],[20.23,27.27],[20.29,26.89],[19.66,26.95],[19.61,26.21],[19.73,26.38],[19.86,26.21],[19.94,25.83],[20.18,26.38],[20.23,26.32],[20.35,25.79],[20.38,28.71],[20.39,27.74],[20.15,28.27],[20.22,28.08],[19.73,25.16],[20.09,24.99],[20.22,25.16],[20.27,25.24],[20.39,24.67],[19.63,24.06],[19.9,24.37],[19.92,24.06],[19.93,23.68],[20.04,23.46],[20.16,23.84],[20.23,24.1],[20.21,23.1],[19.67,23.0],[19.76,22.45],[19.64,22.2],[19.64,21.81],[20.29,22.15],[19.78,21.03],[19.85,21.67],[19.94,21.81],[19.99,20.67],[20.16,21.18],[19.96,20.4],[20.26,20.12],[19.65,20.35],[19.64,19.19],[19.82,19.28],[19.92,18.98],[19.76,18.34],[20.1,18.7],[20.26,18.39],[19.67,17.44],[19.78,16.8],[19.84,16.99],[20.22,17.29],[20.32,16.74]];

var allPoints = [].concat(lowEduc, educ8to11, educ12, educ13, educ14, educ15, educ16, educ17, educ18, educ19, educ20);

var FONT = '"Liberation Sans", Arial, sans-serif';
var GRID_COLOR = '#EBEBEB';

function makeAxis(ticks, showLabels, lineWidth, extra) {
	var ax = {
		type: 'value',
		axisLine: { show: false },
		axisTick: { show: false, customValues: ticks },
		axisLabel: {
			show: showLabels,
			customValues: ticks,
			color: '#4D4D4D',
			fontSize: 42,
			fontFamily: FONT
		},
		splitLine: { show: true, lineStyle: { color: GRID_COLOR, width: lineWidth } }
	};
	for (var k in extra) ax[k] = extra[k];
	return ax;
}

var chart = echarts.init(document.getElementById('chart'), null, { renderer: 'canvas' });

var option = {
	animation: false,
	backgroundColor: '#fff',
	title: [{
		text: 'Years of education\nby age when 1st child born',
		left: 161,
		top: 17,
		padding: 0,
		textStyle: { color: '#000', fontSize: 64, fontWeight: 'normal', fontFamily: FONT, lineHeight: 69 }
	}, {
		text: 'US General Social Survey (2022)',
		right: 28,
		top: 887,
		padding: 0,
		textStyle: { color: '#000', fontSize: 43, fontWeight: 'normal', fontFamily: FONT, lineHeight: 50 }
	}],
	grid: { left: 159, right: 28, top: 184, bottom: 225, containLabel: false, outerBoundsMode: 'none' },
	xAxis: [
		makeAxis(xMajorTicks, true, 3.6, {
			position: 'bottom',
			min: -1.4, max: 21.43,
			name: 'educ', nameLocation: 'middle', nameGap: 75,
			nameTextStyle: { color: '#000', fontSize: 53, fontFamily: FONT }
		}),
		makeAxis(xMinorTicks, false, 1.8, { position: 'bottom', min: -1.4, max: 21.43 })
	],
	yAxis: [
		makeAxis(yMajorTicks, true, 3.6, {
			position: 'left',
			min: 13.5, max: 46.8,
			name: 'agekdbrn', nameLocation: 'middle', nameGap: 85,
			nameTextStyle: { color: '#000', fontSize: 53, fontFamily: FONT }
		}),
		makeAxis(yMinorTicks, false, 1.8, { position: 'left', min: 13.5, max: 46.8 })
	],
	series: [{
		type: 'scatter',
		xAxisIndex: 0,
		yAxisIndex: 0,
		data: allPoints,
		symbol: 'circle',
		symbolSize: 10,
		itemStyle: { color: '#1ABC9C', opacity: 0.5 },
		silent: true,
		z: 2
	}, {
		type: 'line',
		xAxisIndex: 0,
		yAxisIndex: 0,
		data: fitLine,
		symbol: 'none',
		lineStyle: { color: '#000', width: 5 },
		silent: true,
		z: 3
	}]
};

// 刻度标签与轴的距离
option.yAxis[0].axisLabel.margin = 24;
option.xAxis[0].axisLabel.margin = 20;

chart.setOption(option);
</script>
</body>
</html>
